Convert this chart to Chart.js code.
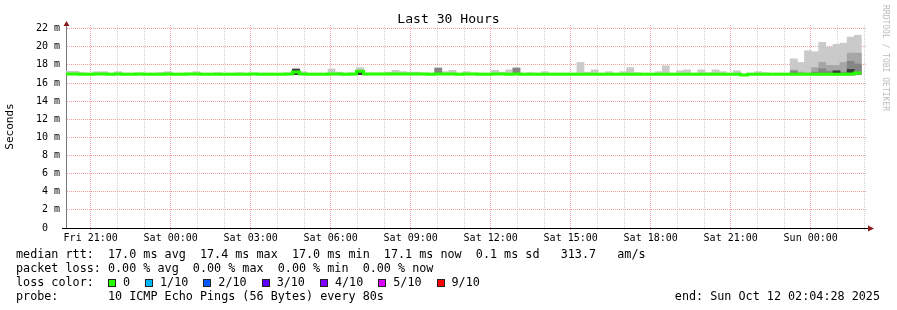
<!DOCTYPE html>
<html>
<head>
<meta charset="utf-8">
<script src="https://cdn.jsdelivr.net/npm/chart.js@4.4.0/dist/chart.umd.min.js"></script>
<style>
  html, body { margin: 0; padding: 0; background: #fff; }
  #wrap { position: relative; width: 897px; height: 310px; overflow: hidden; font-family: 'DejaVu Sans Mono', monospace; color: #000; }
  #chart { position: absolute; left: 0; top: 0; }
  .txt { position: absolute; white-space: pre; }
  #title { left: 0; width: 897px; top: 11px; text-align: center; font-size: 13.1px; line-height: 16px; }
  #legend { left: 16px; top: 247px; font-size: 11.75px; line-height: 14px; }
  #end { right: 17px; top: 289px; font-size: 11.75px; line-height: 14px; }
  #mark { left: 881px; top: 5px; font-size: 8px; color: #bbb; writing-mode: vertical-rl; }
  .sq { display: inline-block; box-sizing: border-box; width: 8px; height: 8px; border: 1px solid #222; margin-right: 7px; vertical-align: -1px; }
  .lab { margin-right: 15px; }
</style>
</head>
<body>
<div id="wrap">
  <canvas id="chart" width="897" height="310"></canvas>
  <div id="title" class="txt">Last 30 Hours</div>
  <div id="mark" class="txt">RRDTOOL / TOBI OETIKER</div>
  <div id="legend" class="txt"></div>
  <div id="end" class="txt"></div>
</div>
<script>
// --- time axis: hours since Fri 00:00 ---
const xMin = 20 + 4 / 60 + 28 / 3600;   // Fri 20:04:28
const xMax = xMin + 30;                  // Sun 02:04:28
const binStartHour = 20 + 2 / 60;        // first 16 min consolidation step
const binHours = 16 / 60;

const xTickHours = [21, 24, 27, 30, 33, 36, 39, 42, 45, 48];
const xTickLabels = ['Fri 21:00', 'Sat 00:00', 'Sat 03:00', 'Sat 06:00', 'Sat 09:00',
  'Sat 12:00', 'Sat 15:00', 'Sat 18:00', 'Sat 21:00', 'Sun 00:00'];
const yTickValues = [0, 2, 4, 6, 8, 10, 12, 14, 16, 18, 20, 22];
const yTickLabels = ['0  ', '2 m', '4 m', '6 m', '8 m', '10 m', '12 m', '14 m', '16 m', '18 m', '20 m', '22 m'];

const _ = null;

// median rtt per 16 min step (ms)
const medianRtt = [
  16.98, 16.98, 16.97, 16.97, 16.98, 16.98, 16.97, 16.98, 16.97, 16.97, 16.98, 16.97, 16.97, 16.97, 16.98, 16.97,
  16.97, 16.98, 16.98, 16.97, 16.97, 16.97, 16.97, 16.97, 16.97, 16.97, 16.98, 16.97, 16.97, 16.97, 16.97, 16.98,
  17.22, 16.98, 16.97, 16.97, 16.97, 16.98, 16.98, 16.97, 16.98, 17.29, 16.98, 16.98, 16.98, 16.98, 16.98, 16.98,
  16.98, 16.98, 16.98, 16.97, 16.98, 16.98, 16.98, 16.97, 16.98, 16.98, 16.97, 16.97, 16.98, 16.98, 16.97, 16.98,
  16.97, 16.97, 16.97, 16.97, 16.97, 16.97, 16.97, 16.97, 16.97, 16.97, 16.97, 16.97, 16.97, 16.97, 16.97, 16.97,
  16.97, 16.97, 16.97, 16.97, 16.97, 16.97, 16.97, 16.97, 16.97, 16.97, 16.97, 16.97, 16.97, 16.97, 16.97, 16.88,
  16.97, 16.97, 16.97, 16.97, 16.97, 16.97, 16.97, 16.97, 16.97, 16.97, 16.97, 16.97, 16.97, 16.97, 16.98, 17.10
];

// lowest and highest ping of each step (ms)
const smokeMin = [
  16.90, 16.90, 16.90, 16.90, 16.90, 16.90, 16.90, 16.90, 16.90, 16.90, 16.90, 16.90, 16.90, 16.90, 16.90, 16.90,
  16.90, 16.90, 16.90, 16.90, 16.90, 16.90, 16.90, 16.90, 16.90, 16.90, 16.90, 16.90, 16.90, 16.90, 16.90, 16.90,
  16.92, 16.90, 16.90, 16.90, 16.90, 16.90, 16.90, 16.90, 16.90, 16.92, 16.90, 16.90, 16.90, 16.90, 16.90, 16.90,
  16.90, 16.90, 16.90, 16.90, 16.92, 16.90, 16.90, 16.90, 16.90, 16.90, 16.90, 16.90, 16.90, 16.90, 16.90, 16.92,
  16.90, 16.90, 16.90, 16.90, 16.90, 16.90, 16.90, 16.90, 16.90, 16.90, 16.90, 16.90, 16.90, 16.90, 16.90, 16.90,
  16.90, 16.90, 16.90, 16.90, 16.90, 16.90, 16.90, 16.90, 16.90, 16.90, 16.90, 16.90, 16.90, 16.90, 16.90, 16.80,
  16.90, 16.90, 16.90, 16.90, 16.90, 16.90, 16.90, 16.90, 16.90, 16.90, 16.90, 16.90, 16.90, 16.90, 16.90, 16.92
];
const smokeMax = [
  17.30, 17.30, 17.15, 17.10, 17.25, 17.25, 17.10, 17.25, 17.10, 17.10, 17.10, 17.10, 17.10, 17.15, 17.25, 17.10,
  17.10, 17.10, 17.25, 17.10, 17.10, 17.15, 17.10, 17.10, 17.15, 17.10, 17.10, 17.10, 17.10, 17.10, 17.10, 17.10,
  17.65, 17.25, 17.10, 17.10, 17.10, 17.55, 17.20, 17.10, 17.10, 17.70, 17.10, 17.10, 17.10, 17.20, 17.40, 17.25,
  17.20, 17.20, 17.10, 17.10, 17.65, 17.25, 17.40, 17.10, 17.25, 17.10, 17.10, 17.10, 17.40, 17.20, 17.45, 17.65,
  17.10, 17.15, 17.10, 17.25, 17.10, 17.10, 17.10, 17.10, 18.27, 17.20, 17.45, 17.10, 17.25, 17.10, 17.25, 17.70,
  17.15, 17.10, 17.10, 17.25, 17.90, 17.10, 17.35, 17.45, 17.10, 17.45, 17.15, 17.45, 17.25, 17.10, 17.35, 16.95,
  17.10, 17.25, 17.15, 17.10, 17.10, 17.10, 18.67, 18.27, 19.56, 19.45, 20.48, 19.97, 20.26, 20.40, 21.07, 21.27
];
// inner smoke layers (upper edge, ms)
const smokeMid = [
  _, _, _, _, _, _, _, _, _, _, _, _, _, _, _, _,
  _, _, _, _, _, _, _, _, _, _, _, _, _, _, _, _,
  _, _, _, _, _, _, _, _, _, _, _, _, _, _, _, _,
  _, _, _, _, _, _, _, _, _, _, _, _, _, _, _, _,
  _, _, _, _, _, _, _, _, _, _, _, _, _, _, _, _,
  _, _, _, _, _, _, _, _, _, _, _, _, _, _, _, _,
  _, _, _, _, _, _, 17.45, 17.20, 17.10, 17.70, 18.27, 17.95, 17.92, 18.27, 19.30, 19.30
];
const smokeInner = [
  _, _, _, _, _, _, _, _, _, _, _, _, _, _, _, _,
  _, _, _, _, _, _, _, _, _, _, _, _, _, _, _, _,
  _, _, _, _, _, _, _, _, _, _, _, _, _, _, _, _,
  _, _, _, _, 17.65, _, _, _, _, _, _, _, _, _, _, 17.65,
  _, _, _, _, _, _, _, _, _, _, _, _, _, _, _, _,
  _, _, _, _, _, _, _, _, _, _, _, _, _, _, _, _,
  _, _, _, _, _, _, 17.30, _, _, 17.20, 17.57, 17.30, 17.20, 17.20, 18.40, 18.10
];
const smokeCore = [
  _, _, _, _, _, _, _, _, _, _, _, _, _, _, _, _,
  _, _, _, _, _, _, _, _, _, _, _, _, _, _, _, _,
  17.52, _, _, _, _, _, _, _, _, 17.20, _, _, _, _, _, _,
  _, _, _, _, _, _, _, _, _, _, _, _, _, _, _, _,
  _, _, _, _, _, _, _, _, _, _, _, _, _, _, _, _,
  _, _, _, _, _, _, _, _, _, _, _, _, _, _, _, _,
  _, _, _, _, _, _, _, _, _, _, _, _, 17.35, _, 17.50, _
];

const lossLabels = ['0', '1/10', '2/10', '3/10', '4/10', '5/10', '9/10'];
const lossColors = ['#26ff00', '#00b8ff', '#0059ff', '#5e00ff', '#7e00ff', '#dd00ff', '#ff0000'];

const rttLine = 'median rtt:  17.0 ms avg  17.4 ms max  17.0 ms min  17.1 ms now  0.1 ms sd   313.7   am/s';
const lossLine = 'packet loss: 0.00 % avg  0.00 % max  0.00 % min  0.00 % now';
const probeLine = 'probe:       10 ICMP Echo Pings (56 Bytes) every 80s';
const endLine = 'end: Sun Oct 12 02:04:28 2025';

// --- legend text ---
let lossHtml = 'loss color:  ';
lossLabels.forEach((lab, i) => {
  lossHtml += `<span class="sq" style="background:${lossColors[i]}"></span><span class="lab">${lab}</span>`;
});
document.getElementById('legend').innerHTML = rttLine + '\n' + lossLine + '\n' + lossHtml + '\n' + probeLine;
document.getElementById('end').textContent = endLine;

// --- helpers ---
function smokeBars(lo, hi) {
  const pts = [];
  hi.forEach((v, i) => {
    if (v === null) return;
    pts.push({ x: binStartHour + (i + 0.5) * binHours, y: [lo[i], v] });
  });
  return pts;
}

function medianSteps(values) {
  const pts = values.map((v, i) => ({ x: binStartHour + i * binHours, y: v }));
  pts.push({ x: binStartHour + values.length * binHours, y: values[values.length - 1] });
  return pts;
}

// grid every hour / every ms, majors on the labelled ticks
function setTicks(step, lastValue) {
  return (s) => {
    const t = [];
    for (let v = Math.ceil(s.min); v <= lastValue; v += step) t.push({ value: v });
    s.ticks = t;
  };
}

const majorGrid = '#f2a0a0';
const minorGrid = '#cfcfcf';

function gridColor(majors) {
  return (c) => (c.tick && majors.includes(c.tick.value) ? majorGrid : minorGrid);
}

const barStyle = { type: 'bar', borderWidth: 0, barPercentage: 1, categoryPercentage: 1, grouped: false };

// axis arrows like rrdtool draws them
const axisArrows = {
  id: 'axisArrows',
  afterDraw(chart) {
    const { ctx, chartArea: a } = chart;
    const y0 = Math.round(a.bottom) + 0.5;
    const x0 = Math.round(a.left) + 0.5;
    ctx.save();
    ctx.strokeStyle = '#000';
    ctx.lineWidth = 1;
    ctx.beginPath();
    ctx.moveTo(a.left - 4, y0);
    ctx.lineTo(a.right + 4, y0);
    ctx.stroke();
    ctx.fillStyle = '#8b1a1a';
    ctx.beginPath();
    ctx.moveTo(x0, a.top - 4);
    ctx.lineTo(x0 - 3, a.top + 1);
    ctx.lineTo(x0 + 3, a.top + 1);
    ctx.closePath();
    ctx.fill();
    ctx.beginPath();
    ctx.moveTo(a.right + 8, y0);
    ctx.lineTo(a.right + 2, y0 - 3);
    ctx.lineTo(a.right + 2, y0 + 3);
    ctx.closePath();
    ctx.fill();
    ctx.restore();
  }
};

Chart.defaults.font.family = "'DejaVu Sans Mono', monospace";
Chart.defaults.color = '#000';

new Chart(document.getElementById('chart'), {
  type: 'bar',
  data: {
    datasets: [
      { ...barStyle, label: 'smoke', data: smokeBars(smokeMin, smokeMax), backgroundColor: '#cacaca', order: 5 },
      { ...barStyle, label: 'smoke mid', data: smokeBars(smokeMin, smokeMid), backgroundColor: '#a6a6a6', order: 4 },
      { ...barStyle, label: 'smoke inner', data: smokeBars(smokeMin, smokeInner), backgroundColor: '#858585', order: 3 },
      { ...barStyle, label: 'smoke core', data: smokeBars(smokeMin, smokeCore), backgroundColor: '#3a3a3a', order: 2 },
      {
        type: 'line', label: 'median rtt', data: medianSteps(medianRtt),
        borderColor: lossColors[0], borderWidth: 3, stepped: true,
        pointRadius: 0, fill: false, order: 1
      }
    ]
  },
  options: {
    responsive: false,
    devicePixelRatio: 1,
    animation: false,
    events: [],
    layout: { padding: { left: 0, right: 31, top: 25, bottom: 62 } },
    plugins: { legend: { display: false }, tooltip: { enabled: false }, title: { display: false } },
    scales: {
      x: {
        type: 'linear',
        min: xMin,
        max: xMax,
        offset: false,
        afterFit: (s) => { s.height = 20; },
        afterBuildTicks: setTicks(1, xMax),
        ticks: {
          autoSkip: false,
          maxRotation: 0,
          padding: 2,
          font: { size: 10 },
          callback: (v) => {
            const k = xTickHours.indexOf(v);
            return k >= 0 ? xTickLabels[k] : '';
          }
        },
        grid: {
          offset: false,
          drawTicks: true,
          tickLength: 2,
          color: gridColor(xTickHours),
          tickColor: gridColor(xTickHours)
        },
        border: { display: true, color: '#000', width: 1, dash: [1, 1] }
      },
      y: {
        type: 'linear',
        min: 0,
        max: 22.4,
        afterFit: (s) => { s.width = 66; },
        afterBuildTicks: setTicks(1, yTickValues[yTickValues.length - 1]),
        ticks: {
          padding: 6,
          font: { size: 10 },
          callback: (v) => {
            const k = yTickValues.indexOf(v);
            return k >= 0 ? yTickLabels[k] : '';
          }
        },
        grid: { drawTicks: false, color: gridColor(yTickValues) },
        border: { display: true, color: '#777', width: 1, dash: [1, 1] },
        title: { display: true, text: 'Seconds', font: { size: 11 }, padding: { top: 4, bottom: 0 } }
      }
    }
  },
  plugins: [axisArrows]
});
</script>
</body>
</html>
